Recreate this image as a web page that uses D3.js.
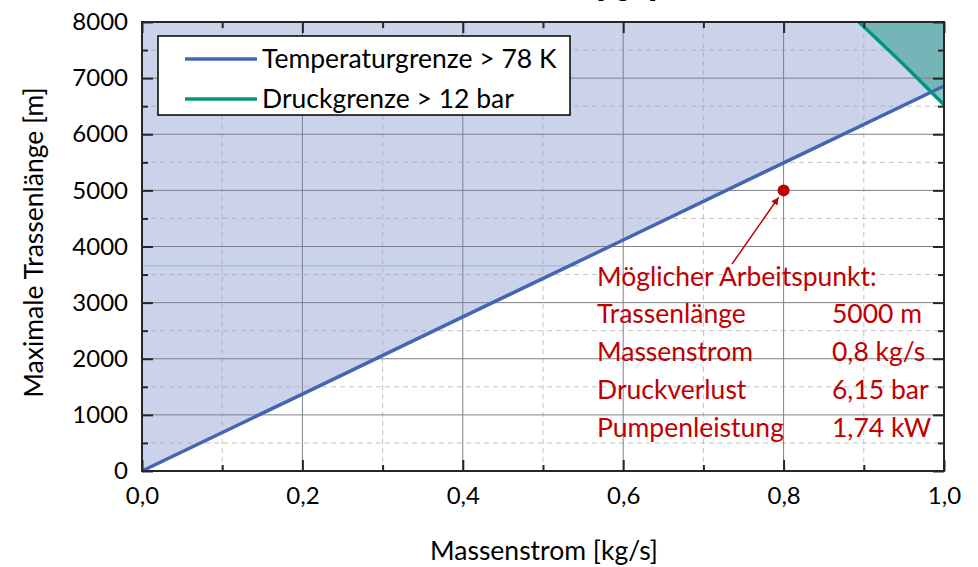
<!DOCTYPE html>
<html>
<head>
<meta charset="utf-8">
<script src="https://cdn.jsdelivr.net/npm/d3@7"></script>
<style>
  body { margin: 0; background: #fff; }
  svg { font-family: Lato, "Open Sans", sans-serif; }
</style>
</head>
<body>
<div id="chart"></div>
<script>
// data
const tempMass = [0, 0.2, 0.4, 0.6, 0.8, 1.0];
const tempLength = [0, 1370, 2745, 4115, 5490, 6860];
const druckMass = [0.894, 0.95, 1.0];
const druckLength = [8000, 7240, 6524];
const xTicks = [0, 0.2, 0.4, 0.6, 0.8, 1.0];
const xMinor = [0.1, 0.3, 0.5, 0.7, 0.9];
const yTicks = [0, 1000, 2000, 3000, 4000, 5000, 6000, 7000, 8000];
const yMinor = [500, 1500, 2500, 3500, 4500, 5500, 6500, 7500];
const legendLabels = ["Temperaturgrenze > 78 K", "Druckgrenze > 12 bar"];
const workPoint = [0.8, 5000];
const noteLabels = ["Trassenlänge", "Massenstrom", "Druckverlust", "Pumpenleistung"];
const noteValues = ["5000 m", "0,8 kg/s", "6,15 bar", "1,74 kW"];

const W = 978, H = 567;
const m = { left: 142, right: 34, top: 22, bottom: 96 };
const textSize = "26.5px";

const svg = d3.select("#chart").append("svg")
    .attr("width", W)
    .attr("height", H);

const x = d3.scaleLinear().domain([0, 1]).range([m.left, W - m.right]);
const y = d3.scaleLinear().domain([0, 8000]).range([H - m.bottom, m.top]);

const blue = "#4565b3";
const green = "#00977f";
const red = "#c00000";

const fmtX = d3.formatLocale({ decimal: ",", thousands: ".", grouping: [3], currency: ["", ""] }).format(".1f");

// cut-off title at the very top
svg.append("text")
    .attr("x", 657).attr("y", -3)
    .attr("text-anchor", "end")
    .style("font-size", "24px")
    .style("font-weight", "bold")
    .text("Massenstrom [kg/s]");

// fills
const tempPts = tempMass.map((d, i) => [d, tempLength[i]]);
const druckPts = druckMass.map((d, i) => [d, druckLength[i]]);

const area = d3.line().x(d => x(d[0])).y(d => y(d[1]));

svg.append("path")
    .attr("d", area([[0, 8000]].concat(tempPts, [[1, 8000]])) + "Z")
    .attr("fill", "#cad3e9");

svg.append("path")
    .attr("d", area(druckPts.concat([[1, 8000]])) + "Z")
    .attr("fill", "#3fa497")
    .attr("fill-opacity", 0.62);

// faint line inside the fill
svg.append("line")
    .attr("x1", x(0)).attr("x2", x(0.545))
    .attr("y1", y(3655)).attr("y2", y(3655))
    .attr("stroke", "#9fb1dc").attr("stroke-width", 1);

// grid
const grid = svg.append("g");
grid.selectAll(".minx").data(xMinor).enter().append("line")
    .attr("x1", d => x(d)).attr("x2", d => x(d))
    .attr("y1", y(0)).attr("y2", y(8000))
    .attr("stroke", "#a8a8a8").attr("stroke-dasharray", "5,4").attr("stroke-opacity", 0.7);
grid.selectAll(".miny").data(yMinor).enter().append("line")
    .attr("x1", x(0)).attr("x2", x(1))
    .attr("y1", d => y(d)).attr("y2", d => y(d))
    .attr("stroke", "#a8a8a8").attr("stroke-dasharray", "5,4").attr("stroke-opacity", 0.7);
grid.selectAll(".majx").data(xTicks).enter().append("line")
    .attr("x1", d => x(d)).attr("x2", d => x(d))
    .attr("y1", y(0)).attr("y2", y(8000))
    .attr("stroke", "#7d808a").attr("stroke-width", 1);
grid.selectAll(".majy").data(yTicks).enter().append("line")
    .attr("x1", x(0)).attr("x2", x(1))
    .attr("y1", d => y(d)).attr("y2", d => y(d))
    .attr("stroke", "#7d808a").attr("stroke-width", 1);

// series lines
svg.append("path")
    .attr("d", area(tempPts))
    .attr("fill", "none").attr("stroke", blue).attr("stroke-width", 3.5);

svg.append("path")
    .attr("d", area(druckPts))
    .attr("fill", "none").attr("stroke", green).attr("stroke-width", 3.5);

// axes, ticks pointing inward
function styleAxis(g) {
    g.select(".domain").remove();
    g.selectAll(".tick line").attr("stroke", "#262626").attr("stroke-width", 2);
    g.selectAll("text").attr("fill", "#000").style("font-size", "24px").style("font-family", "Lato, sans-serif");
}

svg.append("g")
    .attr("transform", "translate(" + x(0) + ",0)")
    .call(d3.axisLeft(y).tickValues(yTicks).tickSize(-11).tickPadding(14).tickFormat(d3.format("d")))
    .call(styleAxis);
svg.append("g")
    .attr("transform", "translate(" + x(0) + ",0)")
    .call(d3.axisLeft(y).tickValues(yMinor).tickSize(-6).tickFormat(""))
    .call(styleAxis);
svg.append("g")
    .attr("transform", "translate(" + x(1) + ",0)")
    .call(d3.axisRight(y).tickValues(yTicks).tickSize(-11).tickFormat(""))
    .call(styleAxis);
svg.append("g")
    .attr("transform", "translate(" + x(1) + ",0)")
    .call(d3.axisRight(y).tickValues(yMinor).tickSize(-6).tickFormat(""))
    .call(styleAxis);
svg.append("g")
    .attr("transform", "translate(0," + y(0) + ")")
    .call(d3.axisBottom(x).tickValues(xTicks).tickSize(-11).tickPadding(16).tickFormat(fmtX))
    .call(styleAxis);
svg.append("g")
    .attr("transform", "translate(0," + y(0) + ")")
    .call(d3.axisBottom(x).tickValues(xMinor).tickSize(-6).tickFormat(""))
    .call(styleAxis);
svg.append("g")
    .attr("transform", "translate(0," + y(8000) + ")")
    .call(d3.axisTop(x).tickValues(xTicks).tickSize(-11).tickFormat(""))
    .call(styleAxis);
svg.append("g")
    .attr("transform", "translate(0," + y(8000) + ")")
    .call(d3.axisTop(x).tickValues(xMinor).tickSize(-6).tickFormat(""))
    .call(styleAxis);

// frame
svg.append("rect")
    .attr("x", x(0)).attr("y", y(8000))
    .attr("width", x(1) - x(0)).attr("height", y(0) - y(8000))
    .attr("fill", "none").attr("stroke", "#262626").attr("stroke-width", 2);

// axis titles
svg.append("text")
    .attr("x", (x(0) + x(1)) / 2 + 1).attr("y", 560)
    .attr("text-anchor", "middle")
    .style("font-size", textSize)
    .text("Massenstrom [kg/s]");

svg.append("text")
    .attr("transform", "translate(43," + ((y(0) + y(8000)) / 2 - 4) + ") rotate(-90)")
    .attr("text-anchor", "middle")
    .style("font-size", textSize)
    .text("Maximale Trassenlänge [m]");

// legend
const legend = svg.append("g").attr("transform", "translate(158,36)");
legend.append("rect")
    .attr("width", 412).attr("height", 79)
    .attr("fill", "#fff").attr("stroke", "#000").attr("stroke-width", 1.5);
legend.selectAll(".item").data(legendLabels).enter().append("g")
    .each(function (d, i) {
        const g = d3.select(this).attr("transform", "translate(0," + (23 + i * 40) + ")");
        g.append("line")
            .attr("x1", 27).attr("x2", 99)
            .attr("stroke", i === 0 ? blue : green).attr("stroke-width", 3.5);
        g.append("text")
            .attr("x", 104).attr("y", 9)
            .style("font-size", textSize)
            .text(d);
    });

// working point + annotation
const px = x(workPoint[0]), py = y(workPoint[1]);

svg.append("defs").append("marker")
    .attr("id", "arrow")
    .attr("viewBox", "0 0 10 10")
    .attr("refX", 10).attr("refY", 5)
    .attr("markerWidth", 5).attr("markerHeight", 5)
    .attr("markerUnits", "strokeWidth")
    .attr("orient", "auto")
    .append("path").attr("d", "M0,0L10,5L0,10Z").attr("fill", red);

svg.append("line")
    .attr("x1", 732).attr("y1", 264)
    .attr("x2", px - 5).attr("y2", py + 7)
    .attr("stroke", red).attr("stroke-width", 1.5)
    .attr("marker-end", "url(#arrow)");

svg.append("circle")
    .attr("cx", px).attr("cy", py).attr("r", 6)
    .attr("fill", red);

const note = svg.append("g").attr("fill", red).style("font-size", textSize);
note.append("text").attr("x", 597).attr("y", 286).text("Möglicher Arbeitspunkt:");
note.selectAll(".lab").data(noteLabels).enter().append("text")
    .attr("x", 597).attr("y", (d, i) => 323 + i * 38).text(d => d);
note.selectAll(".val").data(noteValues).enter().append("text")
    .attr("x", 832).attr("y", (d, i) => 323 + i * 38).text(d => d);
</script>
</body>
</html>
